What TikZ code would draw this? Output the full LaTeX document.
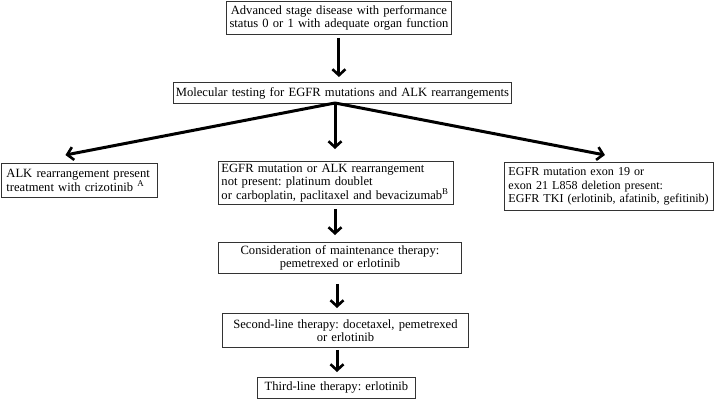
\documentclass[tikz,border=0pt]{standalone}
\usepackage{fontspec}
\setmainfont{Liberation Serif}
\frenchspacing
\usetikzlibrary{arrows.meta}
\tikzset{
  box/.style={draw=black!80, line width=0.9pt, anchor=north west, inner ysep=1pt,
    font=\fontsize{12.6}{13.5}\selectfont},
  arr/.style={line width=3pt, -{Straight Barb[length=6pt,width=13pt,line width=2.6pt]}},
}
\begin{document}
\begin{tikzpicture}[x=1pt,y=-1pt]
\useasboundingbox (0,0) rectangle (716,400);
\node[box, minimum width=225pt, minimum height=33pt, inner xsep=0pt, text width=225pt, align=center] (b1) at (226,1)
  {Advanced stage disease with performance\\status 0 or 1 with adequate organ function};
\node[box, minimum width=338pt, minimum height=21pt, inner xsep=0pt, text width=338pt, align=center] (b2) at (173,82)
  {Molecular testing for EGFR mutations and ALK rearrangements};
\node[box, minimum width=156pt, minimum height=34pt, inner xsep=5pt, text width=146pt, align=left] (bL) at (1,163)
  {ALK rearrangement present\\treatment with crizotinib \textsuperscript{A}};
\node[box, minimum width=235pt, minimum height=43pt, inner xsep=3pt, text width=229pt, align=left] (bM) at (218,161)
  {EGFR mutation or ALK rearrangement\\not present: platinum doublet\\or carboplatin, paclitaxel and bevacizumab\textsuperscript{B}};
\node[box, minimum width=209pt, minimum height=48pt, inner xsep=4pt, text width=201pt, align=left,
  font=\fontsize{12.1}{13.5}\selectfont] (bR) at (504,162)
  {\mbox{EGFR mutation exon 19 or}\\\mbox{exon 21 L858 deletion present:}\\\mbox{EGFR TKI (erlotinib, afatinib, gefitinib)}};
\node[box, minimum width=243pt, minimum height=31pt, inner xsep=0pt, text width=243pt, align=center] (b4) at (218,242)
  {Consideration of maintenance therapy:\\pemetrexed or erlotinib};
\node[box, minimum width=246pt, minimum height=34pt, inner xsep=0pt, text width=246pt, align=center] (b5) at (222,313)
  {Second-line therapy: docetaxel, pemetrexed\\or erlotinib};
\node[box, minimum width=158pt, minimum height=21pt, inner xsep=0pt, text width=158pt, align=center] (b6) at (257,377)
  {Third-line therapy: erlotinib};
\coordinate (apex) at (335,103);
\draw[arr] ([yshift=-3pt]b1.south) -- ([yshift=5pt]b2.north -| b1.south);
\draw[arr] (apex) -- ([shift={(-14pt,8pt)}]bL.north);
\draw[arr] (apex) -- ([yshift=12pt]bM.north -| apex);
\draw[arr] (apex) -- ([shift={(-4pt,7pt)}]bR.north);
\draw[arr] ([yshift=-4pt]bM.south -| apex) -- ([yshift=7pt]b4.north -| apex);
\draw[arr] ([yshift=-10pt]b4.south -| 337,0) -- ([yshift=5pt]b5.north -| 337,0);
\draw[arr] ([yshift=-2pt]b5.south -| 337,0) -- ([yshift=5pt]b6.north -| 337,0);
\end{tikzpicture}
\end{document}
